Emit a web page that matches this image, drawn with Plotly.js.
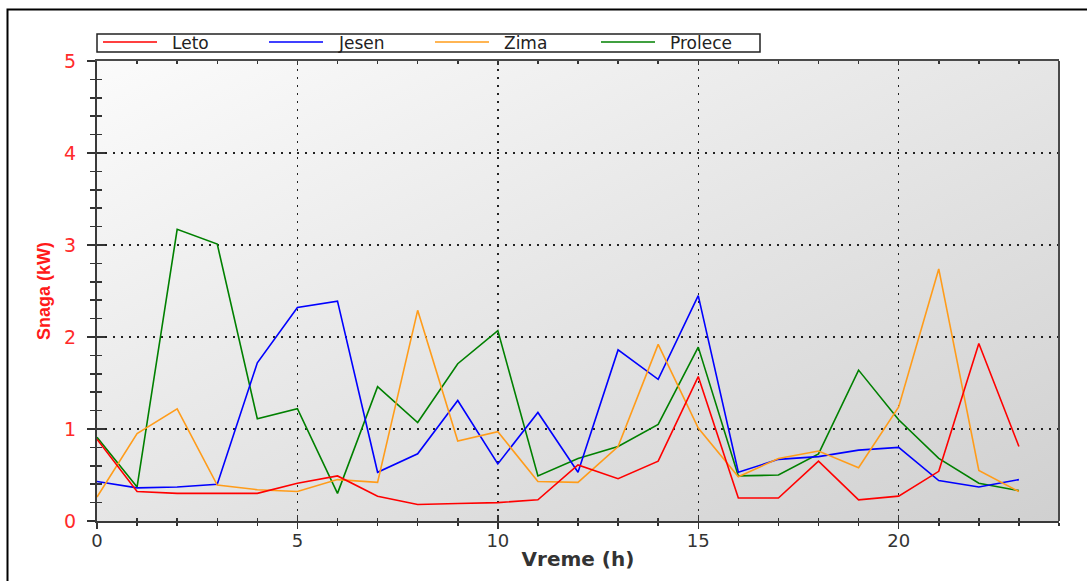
<!DOCTYPE html>
<html>
<head>
<meta charset="utf-8">
<script src="https://cdn.plot.ly/plotly-3.0.1.min.js"></script>
<style>html,body{margin:0;padding:0;background:#fff;}#chart{width:1087px;height:581px;}</style>
</head>
<body>
<div id="chart"></div>
<script>
const hours = [0,1,2,3,4,5,6,7,8,9,10,11,12,13,14,15,16,17,18,19,20,21,22,23];
const leto    = [0.89,0.32,0.30,0.30,0.30,0.41,0.49,0.27,0.18,0.19,0.20,0.23,0.61,0.46,0.65,1.57,0.25,0.25,0.65,0.23,0.27,0.54,1.93,0.81];
const jesen   = [0.43,0.36,0.37,0.40,1.72,2.32,2.39,0.53,0.73,1.31,0.62,1.18,0.53,1.86,1.54,2.45,0.53,0.67,0.70,0.77,0.80,0.44,0.37,0.45];
const zima    = [0.26,0.95,1.22,0.39,0.34,0.32,0.45,0.42,2.29,0.87,0.97,0.43,0.42,0.81,1.92,1.01,0.48,0.68,0.76,0.58,1.24,2.74,0.55,0.32];
const prolece = [0.91,0.37,3.17,3.01,1.11,1.22,0.30,1.46,1.07,1.71,2.07,0.49,0.68,0.81,1.05,1.89,0.49,0.50,0.73,1.64,1.10,0.68,0.41,0.33];
const seriesNames = ["Leto","Jesen","Zima","Prolece"];
const seriesColors = ["#ff0000","#0000ff","#ff9c1a","#008000"];
const xTitle = "Vreme (h)";
const yTitle = "Snaga (kW)";

const L = 97, R = 1059, T = 61, B = 521, W = 1087, H = 581;
const px = v => (v - L) / (R - L);
const py = v => (B - v) / (B - T);

const values = [leto, jesen, zima, prolece];
// overlay axes (same ranges) carry the inside halves of the crossing tick marks
const axisPairs = {3: ["x", "y"], 1: ["x", "y"], 2: ["x2", "y2"], 0: ["x3", "y"]};
const traces = [];
[3, 1, 2, 0].forEach(i => {
  traces.push({
    x: hours, y: values[i], type: "scatter", mode: "lines", name: seriesNames[i],
    xaxis: axisPairs[i][0], yaxis: axisPairs[i][1],
    line: {color: seriesColors[i], width: 1.6}, showlegend: false
  });
});

const grad = '<svg xmlns="http://www.w3.org/2000/svg" width="100" height="100" preserveAspectRatio="none">' +
  '<defs><linearGradient id="g" x1="0" y1="0" x2="1" y2="1">' +
  '<stop offset="0" stop-color="#fbfbfb"/><stop offset="1" stop-color="#d0d0d0"/></linearGradient></defs>' +
  '<rect width="100" height="100" fill="url(#g)"/></svg>';

// legend: box, line samples, labels
const legShapes = [{type: "rect", xref: "paper", yref: "paper", x0: px(97), x1: px(760), y0: py(52), y1: py(34),
  line: {color: "#222", width: 1.5}, fillcolor: "#ffffff", layer: "above"}];
const legAnn = [];
seriesNames.forEach((n, i) => {
  const off = i * 166;
  legShapes.push({type: "line", xref: "paper", yref: "paper", x0: px(103 + off), x1: px(157 + off), y0: py(42), y1: py(42),
    line: {color: seriesColors[i], width: 1.5}, layer: "above"});
  legAnn.push({xref: "paper", yref: "paper", x: px(170 + off), y: py(42.5), xanchor: "left", yanchor: "middle",
    text: n, showarrow: false, font: {family: "DejaVu Sans, sans-serif", size: 17, color: "#222"}});
});

const xr = [0, 24], yr = [0, 5];
const tickFont = {family: "DejaVu Sans, sans-serif", size: 18, color: "#333"};
const layout = {
  width: W, height: H,
  margin: {l: L, r: W - R, t: T, b: H - B, pad: 0},
  paper_bgcolor: "#ffffff",
  plot_bgcolor: "rgba(0,0,0,0)",
  font: {family: "DejaVu Sans, sans-serif", size: 18, color: "#333"},
  showlegend: false,
  xaxis: {
    range: xr, autorange: false, dtick: 5, tick0: 0,
    showline: true, linecolor: "#3a3a3a", linewidth: 2,
    ticks: "outside", ticklen: 6, tickwidth: 1.5, tickcolor: "#333",
    minor: {dtick: 1, ticks: "outside", ticklen: 3, tickwidth: 1.5, tickcolor: "#333", showgrid: false},
    showgrid: true, gridcolor: "#222", gridwidth: 1.5, griddash: "2px,6px",
    zeroline: false, ticklabelstandoff: -4,
    tickfont: tickFont,
    title: {text: xTitle, standoff: 2, font: {family: "DejaVu Sans, sans-serif", size: 20, color: "#333", weight: "bold"}}
  },
  xaxis2: {
    range: xr, autorange: false, overlaying: "x", anchor: "y2", side: "top",
    dtick: 5, tick0: 0, showline: true, linecolor: "#4a4a4a", linewidth: 2,
    ticks: "inside", ticklen: 4, tickwidth: 1.5, tickcolor: "#333",
    minor: {dtick: 1, ticks: "inside", ticklen: 3, tickwidth: 1.5, tickcolor: "#333"},
    showticklabels: false, showgrid: false, zeroline: false
  },
  xaxis3: {
    range: xr, autorange: false, overlaying: "x", anchor: "y", side: "bottom",
    dtick: 5, tick0: 0, showline: false,
    ticks: "inside", ticklen: 6, tickwidth: 1.5, tickcolor: "#333",
    minor: {dtick: 1, ticks: "inside", ticklen: 3, tickwidth: 1.5, tickcolor: "#333"},
    showticklabels: false, showgrid: false, zeroline: false
  },
  yaxis: {
    range: yr, autorange: false, dtick: 1, tick0: 0,
    showline: true, linecolor: "#3a3a3a", linewidth: 2,
    ticks: "outside", ticklen: 8, tickwidth: 1.5, tickcolor: "#333",
    minor: {dtick: 0.2, ticks: "outside", ticklen: 5, tickwidth: 1.5, tickcolor: "#333", showgrid: false},
    showgrid: true, gridcolor: "#222", gridwidth: 1.5, griddash: "2px,6px",
    zeroline: false, ticklabelstandoff: 7,
    tickfont: {family: "DejaVu Sans, sans-serif", size: 19, color: "#ff2a2a"},
    title: {text: yTitle, standoff: 9, font: {family: "Liberation Sans Narrow, Liberation Sans, sans-serif", size: 18, color: "#ff1a1a", weight: "bold"}}
  },
  yaxis2: {
    range: yr, autorange: false, overlaying: "y", anchor: "x2", side: "left",
    dtick: 1, tick0: 0, showline: false,
    ticks: "inside", ticklen: 8, tickwidth: 1.5, tickcolor: "#333",
    minor: {dtick: 0.2, ticks: "inside", ticklen: 5, tickwidth: 1.5, tickcolor: "#333"},
    showticklabels: false, showgrid: false, zeroline: false
  },
  shapes: [
    {type: "line", xref: "paper", yref: "paper", x0: 1, x1: 1, y0: 0, y1: 1, line: {color: "#4a4a4a", width: 2}},
    {type: "rect", xref: "paper", yref: "paper", x0: px(7.5), x1: px(1120), y0: py(620), y1: py(9.5), line: {color: "#000", width: 2}, fillcolor: "rgba(0,0,0,0)", layer: "above"}
  ].concat(legShapes),
  annotations: legAnn,
  images: [{
    source: "data:image/svg+xml;charset=utf-8," + encodeURIComponent(grad),
    xref: "paper", yref: "paper", x: 0, y: 1, sizex: 1, sizey: 1,
    xanchor: "left", yanchor: "top", sizing: "stretch", layer: "below"
  }]
};

Plotly.newPlot("chart", traces, layout, {displayModeBar: false, staticPlot: true});
</script>
</body>
</html>
